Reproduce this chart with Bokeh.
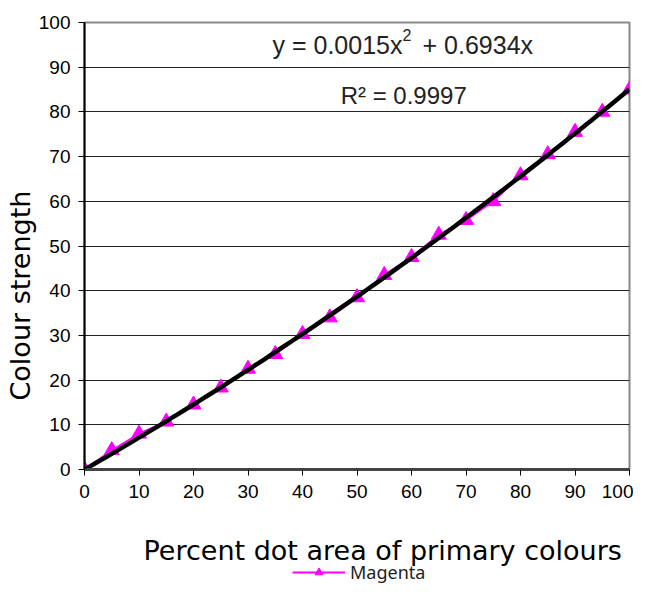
import numpy as np
from bokeh.plotting import figure
from bokeh.layouts import column
from bokeh.models import Label, Legend, LegendItem, FixedTicker, Range1d, Title
from bokeh.embed import file_html
from bokeh.resources import INLINE

dot_area = [0, 5, 10, 15, 20, 25, 30, 35, 40, 45, 50, 55, 60, 65, 70, 75, 80, 85, 90, 95, 100]
strength = [0, 4.3, 8.0, 10.7, 14.5, 18.3, 22.5, 25.8, 30.3, 34.0, 38.5, 43.5, 47.5, 52.5, 55.8, 60.0, 65.8, 70.5, 75.5, 80.0, 85.0]
x_ticks = [0, 10, 20, 30, 40, 50, 60, 70, 80, 90, 100]
y_ticks = [0, 10, 20, 30, 40, 50, 60, 70, 80, 90, 100]
eq_part1 = "y = 0.0015x"
eq_sup = "2"
eq_part2 = "+ 0.6934x"
r2_text = "R\u00b2 = 0.9997"
series_name = "Magenta"
x_title = "Percent dot area of primary colours"
y_title = "Colour strength"

MAGENTA = "#FF00FF"
W, H = 633, 508
p = figure(width=W, height=H, output_backend="svg", toolbar_location=None,
           x_range=Range1d(0, 100), y_range=Range1d(0, 100),
           min_border_left=84, min_border_right=4, min_border_top=22, min_border_bottom=39)
p.background_fill_color = "white"
p.border_fill_color = "white"
p.outline_line_color = "#888888"
p.outline_line_width = 2

# axes
for ax in (p.xaxis[0], p.yaxis[0]):
    ax.major_label_text_font = "Liberation Sans"
    ax.major_label_text_font_size = "19px"
    ax.major_label_text_color = "black"
    ax.minor_tick_line_color = None
    ax.major_tick_in = 0
    ax.major_tick_out = 6
    ax.major_tick_line_color = "black"
p.xaxis.ticker = FixedTicker(ticks=x_ticks)
p.yaxis.ticker = FixedTicker(ticks=y_ticks)
p.xaxis.axis_line_color = "#444444"
p.xaxis.axis_line_width = 3
p.yaxis.axis_line_color = "black"
p.yaxis.axis_line_width = 2
p.xaxis.major_label_standoff = 9
p.yaxis.major_label_standoff = 8

p.xgrid.grid_line_color = None
p.ygrid.grid_line_color = "#222222"
p.ygrid.grid_line_width = 1

# series
r_line = p.line(dot_area, strength, line_color=MAGENTA, line_width=2)
r_pts = p.scatter(dot_area, strength, marker="triangle", size=15,
                  fill_color=MAGENTA, line_color=MAGENTA)

# polynomial trendline through origin fitted from data
xa = np.array(dot_area, dtype=float)
ya = np.array(strength, dtype=float)
A = np.column_stack([xa ** 2, xa])
coef, *_ = np.linalg.lstsq(A, ya, rcond=None)
xf = np.linspace(0, 100, 101)
p.line(xf, coef[0] * xf ** 2 + coef[1] * xf, line_color="black", line_width=4.5)

# equation labels
eq_style = dict(text_font="Liberation Sans", text_color="#222222", text_baseline="middle")
p.add_layout(Label(x=34.5, y=94.9, text=eq_part1, text_font_size="25px", **eq_style))
p.add_layout(Label(x=34.5, y=94.9, x_offset=130, y_offset=10, text=eq_sup,
                   text_font_size="16px", **eq_style))
p.add_layout(Label(x=34.5, y=94.9, x_offset=150, text=eq_part2, text_font_size="25px", **eq_style))
p.add_layout(Label(x=47.0, y=83.7, text=r2_text, text_font_size="24px", **eq_style))

# y axis title
yt = Title(text=y_title, align="left", offset=69, standoff=0,
           text_font="DejaVu Sans", text_font_size="27px", text_font_style="normal",
           text_color="black")
p.add_layout(yt, "left")

# strip below the chart: x title and legend (its frame is aligned with the chart's frame)
SH = 76
lg = figure(width=W, height=SH, output_backend="svg", toolbar_location=None,
            x_range=Range1d(1000, 1001), y_range=Range1d(1000, 1001),
            min_border=0, x_axis_location=None, y_axis_location=None)
lg.outline_line_color = None
lg.xgrid.grid_line_color = None
lg.ygrid.grid_line_color = None
lg.add_layout(Label(x=59, y=SH - 42, x_units="screen", y_units="screen", text=x_title,
                    text_font="DejaVu Sans", text_font_size="27px", text_color="black",
                    text_baseline="middle", text_align="left"))
lg_line = lg.line(dot_area, strength, line_color=MAGENTA, line_width=2)
lg_pts = lg.scatter(dot_area, strength, marker="triangle", size=14,
                    fill_color=MAGENTA, line_color=MAGENTA)
legend = Legend(items=[LegendItem(label=series_name, renderers=[lg_line, lg_pts])],
                location=(208, 0), orientation="horizontal",
                padding=0, margin=0, spacing=0, glyph_width=53, glyph_height=20,
                label_standoff=5, label_text_font="Noto Sans", label_text_font_size="18px",
                label_text_color="#222222", label_height=20,
                border_line_color=None, background_fill_alpha=0)
lg.add_layout(legend)

layout = column(p, lg, spacing=0)
open("out.html", "w").write(file_html(layout, INLINE))
